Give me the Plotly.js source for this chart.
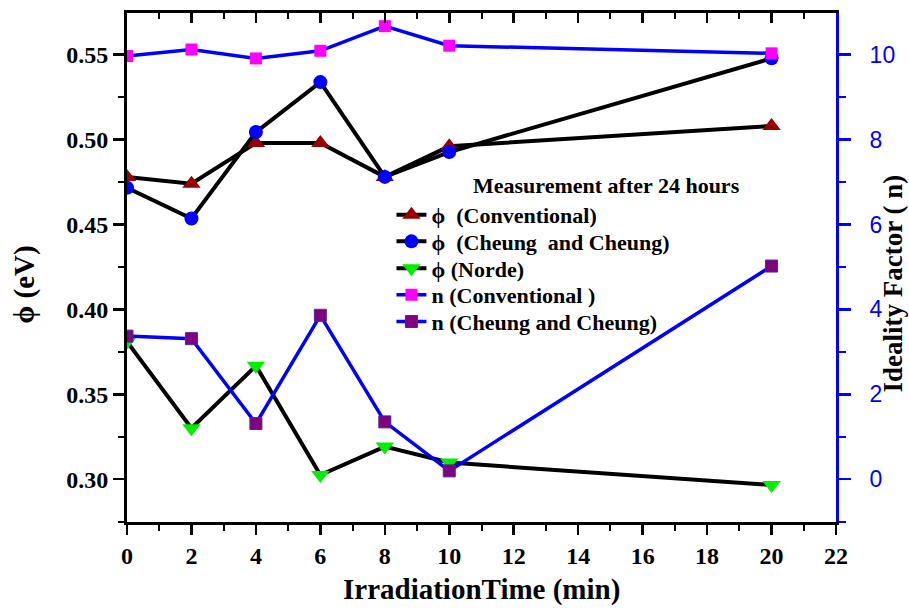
<!DOCTYPE html>
<html>
<head>
<meta charset="utf-8">
<script src="https://cdn.plot.ly/plotly-3.0.1.min.js"></script>
<style>html,body{margin:0;padding:0;background:#fff;}#chart{width:909px;height:609px;}</style>
</head>
<body>
<div id="chart"></div>
<script>
// Irradiation time (min)
var timeMin = [0, 2, 4, 6, 8, 10, 20];
// Barrier height phi (eV)
var phiConventional = [0.478, 0.474, 0.498, 0.498, 0.478, 0.496, 0.508];
var phiCheung = [0.4716, 0.4535, 0.5044, 0.5338, 0.478, 0.4926, 0.5478];
var phiNorde = [0.381, 0.330, 0.3668, 0.3025, 0.3192, 0.3098, 0.2966];
// Ideality factor n
var nConventional = [9.965, 10.12, 9.91, 10.09, 10.67, 10.21, 10.03];
var nCheung = [3.37, 3.31, 1.31, 3.86, 1.35, 0.196, 5.02];

var names = ["\u03d5\u00a0\u00a0(Conventional)", "\u03d5\u00a0\u00a0(Cheung\u00a0\u00a0and Cheung)", "\u03d5 (Norde)", "n (Conventional )", "n (Cheung and Cheung)"];

var serif = "Liberation Serif, Times New Roman, serif";

var traces = [
  {x: timeMin, y: phiConventional, name: names[0], legend: 'legend', mode: 'lines+markers', xaxis: 'x', yaxis: 'y',
   line: {color: '#000000', width: 4}, marker: {symbol: 'triangle-up', size: 16, color: '#990000'}},
  {x: timeMin, y: phiCheung, name: names[1], legend: 'legend2', mode: 'lines+markers', xaxis: 'x', yaxis: 'y',
   line: {color: '#000000', width: 4}, marker: {symbol: 'circle', size: 14, color: '#0000ff'}},
  {x: timeMin, y: phiNorde, name: names[2], legend: 'legend3', mode: 'lines+markers', xaxis: 'x', yaxis: 'y',
   line: {color: '#000000', width: 4}, marker: {symbol: 'triangle-down', size: 16, color: '#00ee00'}},
  {x: timeMin, y: nConventional, name: names[3], legend: 'legend4', mode: 'lines+markers', xaxis: 'x', yaxis: 'y2',
   line: {color: '#0000ff', width: 3.5}, marker: {symbol: 'square', size: 12, color: '#ff00ff'}},
  {x: timeMin, y: nCheung, name: names[4], legend: 'legend5', mode: 'lines+markers', xaxis: 'x', yaxis: 'y2',
   line: {color: '#0000ff', width: 3.5}, marker: {symbol: 'square', size: 12, color: '#800080', line: {color: '#4a2a9a', width: 1}}},
  {x: timeMin, y: phiConventional, mode: 'lines', xaxis: 'x2', yaxis: 'y', opacity: 0,
   showlegend: false, hoverinfo: 'skip', line: {width: 0}}
];

function leg(y) {
  return {x: 0.373, y: y, xanchor: 'left', yanchor: 'middle', bgcolor: 'rgba(0,0,0,0)',
          font: {family: serif, size: 22, color: '#000', weight: 'bold'}};
}

var layout = {
  width: 909, height: 609,
  paper_bgcolor: '#ffffff', plot_bgcolor: '#ffffff',
  margin: {l: 127, r: 73, t: 13, b: 87},
  showlegend: true,
  legend: leg(0.603), legend2: leg(0.551), legend3: leg(0.498), legend4: leg(0.446), legend5: leg(0.3935),
  xaxis: {range: [0, 22], dtick: 2, tick0: 0, ticks: 'outside', ticklen: 10, tickwidth: 2.5, tickcolor: '#000',
          showline: true, linewidth: 3, linecolor: '#000', showgrid: false, zeroline: false,
          minor: {dtick: 1, ticks: 'outside', ticklen: 6, tickwidth: 2, tickcolor: '#000'},
          tickfont: {family: serif, size: 24, color: '#000', weight: 'bold'}},
  xaxis2: {range: [0, 22], dtick: 2, tick0: 0, overlaying: 'x', side: 'top', anchor: 'y', ticks: 'inside', ticklen: 10,
           tickwidth: 2.5, tickcolor: '#000', showticklabels: false, showline: true, linewidth: 3, linecolor: '#000',
           showgrid: false, zeroline: false,
           minor: {dtick: 1, ticks: 'inside', ticklen: 6, tickwidth: 2, tickcolor: '#000'}},
  yaxis: {range: [0.2748, 0.5745], dtick: 0.05, tick0: 0.30, tickformat: '.2f', ticks: 'outside', ticklen: 11,
          tickwidth: 2.5, tickcolor: '#000', showline: true, linewidth: 3, linecolor: '#000', showgrid: false, zeroline: false,
          minor: {dtick: 0.025, ticks: 'outside', ticklen: 6, tickwidth: 2, tickcolor: '#000'},
          tickfont: {family: serif, size: 24, color: '#000', weight: 'bold'}},
  yaxis2: {range: [-1.008, 10.98], dtick: 2, tick0: 0, overlaying: 'y', side: 'right', anchor: 'x', ticks: 'outside',
           ticklen: 12, tickwidth: 2.5, tickcolor: '#0000ff', showline: true, linewidth: 3, linecolor: '#0000ff',
           showgrid: false, zeroline: false, ticklabelstandoff: 14,
           minor: {dtick: 1, ticks: 'outside', ticklen: 7, tickwidth: 2, tickcolor: '#0000ff'},
           tickfont: {family: 'Liberation Sans, Arial, sans-serif', size: 23, color: '#0000ff'}},
  annotations: [
    {text: 'Measurement after 24 hours', xref: 'paper', yref: 'paper', x: 0.677, y: 0.662, xanchor: 'center', yanchor: 'middle',
     showarrow: false, font: {family: serif, size: 22, color: '#000', weight: 'bold'}},
    {text: 'IrradiationTime (min)', xref: 'paper', yref: 'paper', x: 0.5, y: -0.133, xanchor: 'center', yanchor: 'middle',
     showarrow: false, font: {family: serif, size: 29, color: '#000', weight: 'bold'}},
    {text: '\u03d5 (eV)', xref: 'paper', yref: 'paper', x: -0.1439, y: 0.466, xanchor: 'center', yanchor: 'middle',
     textangle: -90, showarrow: false, font: {family: serif, size: 29, color: '#000', weight: 'bold'}},
    {text: 'Ideality Factor ( n)', xref: 'paper', yref: 'paper', x: 1.080, y: 0.468, xanchor: 'center', yanchor: 'middle',
     textangle: -90, showarrow: false, font: {family: serif, size: 27, color: '#000', weight: 'bold'}}
  ]
};

Plotly.newPlot('chart', traces, layout, {displayModeBar: false, staticPlot: true});
</script>
</body>
</html>
